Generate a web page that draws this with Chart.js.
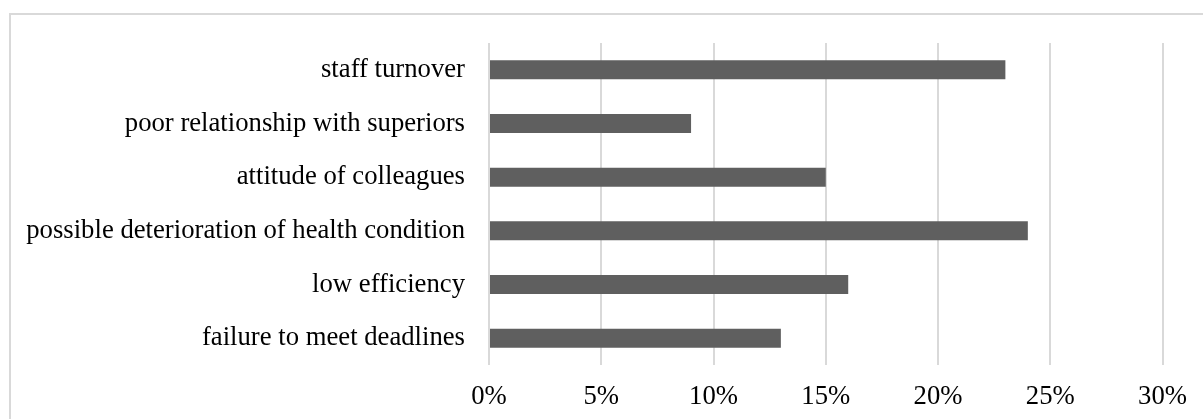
<!DOCTYPE html>
<html>
<head>
<meta charset="utf-8">
<script src="https://cdn.jsdelivr.net/npm/chart.js@4/dist/chart.umd.min.js"></script>
<style>
  html, body { margin: 0; padding: 0; background: #fff; overflow: hidden; }
  #frame {
    position: absolute; left: 9px; top: 13px;
    width: 1400px; height: 600px;
    border: 2px solid #d9d9d9;
  }
  #wrap { position: absolute; left: 0; top: 0; width: 1203px; height: 419px; }
</style>
</head>
<body>
<div id="frame"></div>
<div id="wrap"><canvas id="riskChart"></canvas></div>
<script>
const serif = "'Liberation Serif', 'Times New Roman', serif";
const barColor = '#5f5f5f';
const gridColor = '#d9d9d9';

const categories = [
  'staff turnover',
  'poor relationship with superiors',
  'attitude of colleagues',
  'possible deterioration of health condition',
  'low efficiency',
  'failure to meet deadlines',
];
const shares = [23, 9, 15, 24, 16, 13];
const axisMax = 30;
const axisStep = 5;

new Chart(document.getElementById('riskChart'), {
  type: 'bar',
  data: {
    labels: categories,
    datasets: [{
      data: shares,
      backgroundColor: barColor,
      borderWidth: 0,
      barPercentage: 0.355,
      categoryPercentage: 1,
    }],
  },
  options: {
    indexAxis: 'y',
    responsive: true,
    maintainAspectRatio: false,
    animation: false,
    layout: { padding: { top: 43, right: 40, bottom: 0, left: 0 } },
    plugins: {
      legend: { display: false },
      tooltip: { enabled: false },
    },
    scales: {
      x: {
        min: 0,
        max: axisMax,
        ticks: {
          stepSize: axisStep,
          color: '#000',
          font: { family: serif, size: 26.7 },
          padding: 16,
          callback: v => v + '%',
        },
        grid: { color: gridColor, lineWidth: 2, drawTicks: false },
        border: { display: false },
        afterFit: s => { s.height = 54; },
      },
      y: {
        ticks: {
          color: '#000',
          font: { family: serif, size: 26.7 },
          padding: 24,
        },
        grid: { display: false, drawTicks: false },
        border: { display: false },
        afterFit: s => { s.width = 489; },
      },
    },
  },
});
</script>
</body>
</html>
